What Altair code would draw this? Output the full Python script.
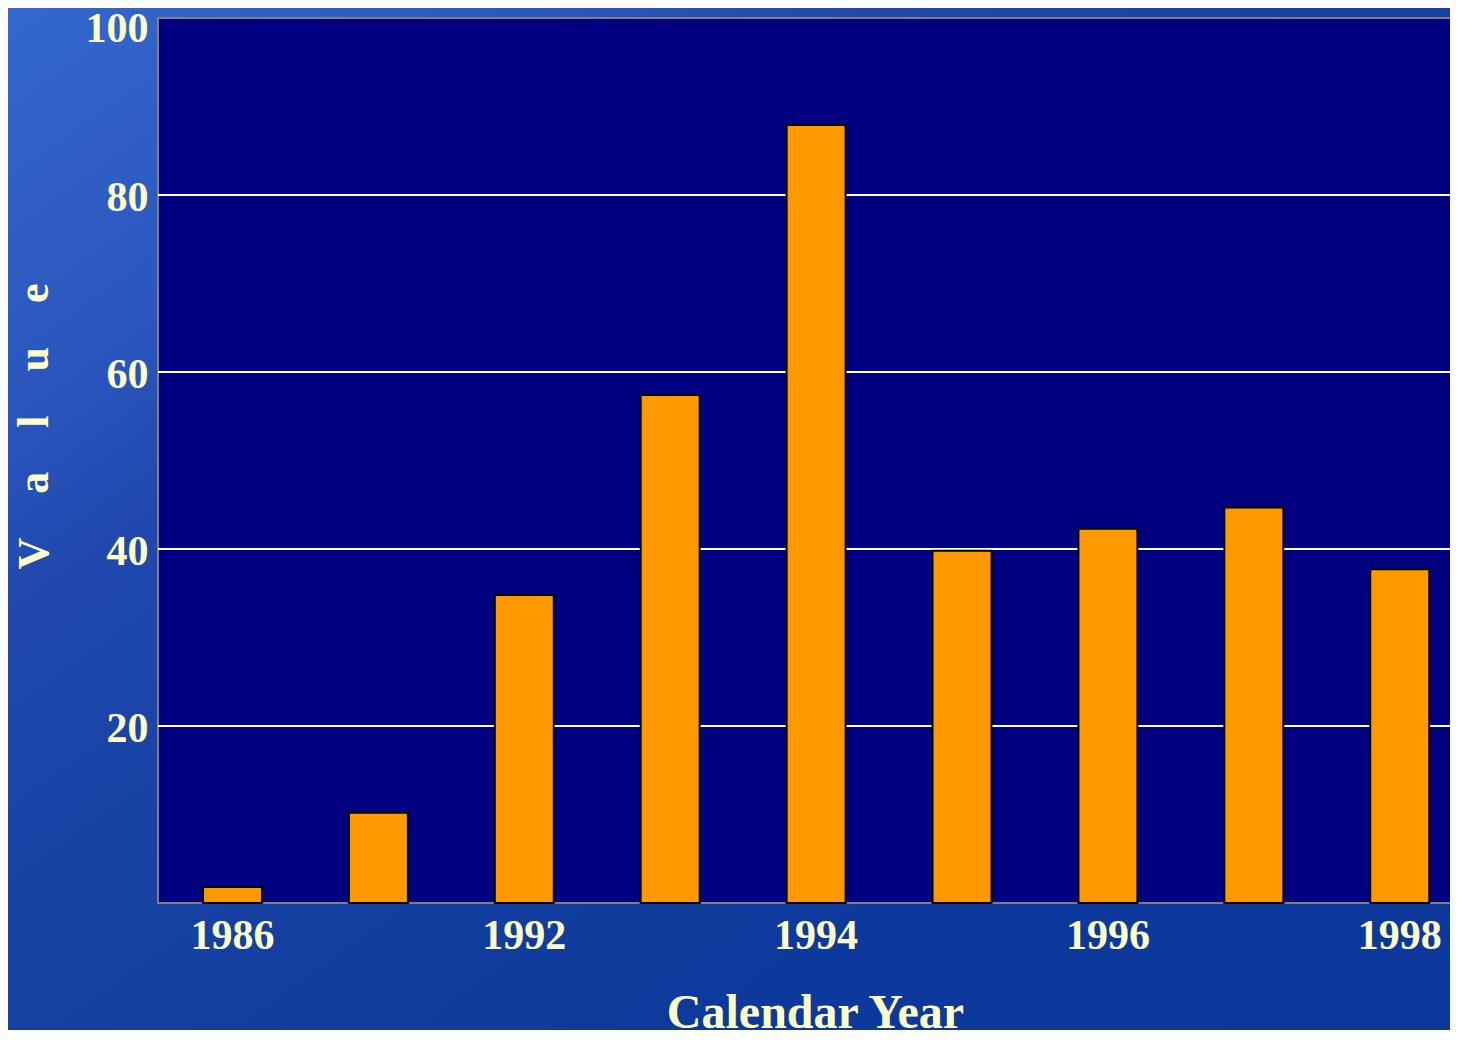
import altair as alt
import pandas as pd

categories = ["1986", "1990", "1992", "1993", "1994", "1995", "1996", "1997", "1998"]
values = [1.8, 10.2, 34.8, 57.4, 87.9, 39.8, 42.3, 44.7, 37.7]
x_tick_labels = ["1986", "1992", "1994", "1996", "1998"]
y_tick_values = [20, 40, 60, 80, 100]
grid_values = [20, 40, 60, 80]

W, H = 1292, 885
FONT = "Liberation Serif"
TXT = "#FFFFCC"

df = pd.DataFrame({"year": categories, "value": values})
grid_df = pd.DataFrame({"v": grid_values})

yscale = alt.Scale(domain=[0, 100], nice=False, zero=True)

y_axis = alt.Axis(
    values=y_tick_values,
    title="V\u2003a\u2003l\u2003u\u2003e",
    grid=False,
    ticks=False,
    tickSize=0,
    domain=False,
    labelPadding=10,
    labelBaseline="alphabetic",
    labelOffset={"condition": {"test": "datum.value == 100", "value": 23}, "value": 15},
    labelFont=FONT,
    labelFontSize=42,
    labelFontWeight="bold",
    labelColor=TXT,
    titleFont=FONT,
    titleFontSize=44,
    titleFontWeight="bold",
    titleColor=TXT,
    titleAngle=270,
    titleAlign="center",
    titleBaseline="alphabetic",
    titleX=-111,
    titleY=408,
    zindex=1,
)

bg = alt.Chart(alt.Data(values=[{"a": 1}])).mark_rect(
    color=alt.LinearGradient(
        gradient="linear",
        stops=[
            alt.GradientStop(color="#3468CE", offset=0),
            alt.GradientStop(color="#2A56BD", offset=0.2),
            alt.GradientStop(color="#2048AD", offset=0.3),
            alt.GradientStop(color="#1441A2", offset=0.5),
            alt.GradientStop(color="#0E399C", offset=0.75),
            alt.GradientStop(color="#0D389B", offset=1),
        ],
        x1=0, y1=0, x2=1, y2=1,
    )
).encode(
    x=alt.value(-150), x2=alt.value(W), y=alt.value(-10), y2=alt.value(1012)
)

plot_bg = alt.Chart(alt.Data(values=[{"a": 1}])).mark_rect(
    fill="#000080", stroke="#808080", strokeWidth=2
).encode(
    x=alt.value(0), x2=alt.value(W + 10), y=alt.value(0), y2=alt.value(H)
)

grid = alt.Chart(grid_df).mark_rule(color="white", strokeWidth=2).encode(
    y=alt.Y("v:Q", scale=yscale, axis=y_axis),
    x=alt.value(0),
    x2=alt.value(W),
)

bars = alt.Chart(df).mark_bar(color="#FF9900", stroke="black", strokeWidth=2).encode(
    x=alt.X(
        "year:N",
        sort=categories,
        scale=alt.Scale(paddingInner=0.5956, paddingOuter=0.2253, align=0.684),
        axis=alt.Axis(
            values=x_tick_labels,
            title="Calendar Year",
            labelAngle=0,
            ticks=False,
            tickSize=0,
            domain=False,
            labelPadding=45,
            labelBaseline="alphabetic",
            labelFont=FONT,
            labelFontSize=42,
            labelFontWeight="bold",
            labelColor=TXT,
            titleFont=FONT,
            titleFontSize=48,
            titleFontWeight="bold",
            titleColor=TXT,
            titleBaseline="alphabetic",
            titleX=657,
            titleY=124,
            zindex=1,
        ),
    ),
    y=alt.Y("value:Q", scale=yscale, axis=y_axis),
)

chart = alt.layer(bg, plot_bg, grid, bars).properties(
    width=W,
    height=H,
    padding={"left": 150, "top": 10, "right": 0, "bottom": 127},
    autosize=alt.AutoSizeParams(type="none"),
).configure_view(stroke=None).configure(background="#0D389B")

chart.save("out.html", embed_options={"renderer": "svg", "actions": False})
